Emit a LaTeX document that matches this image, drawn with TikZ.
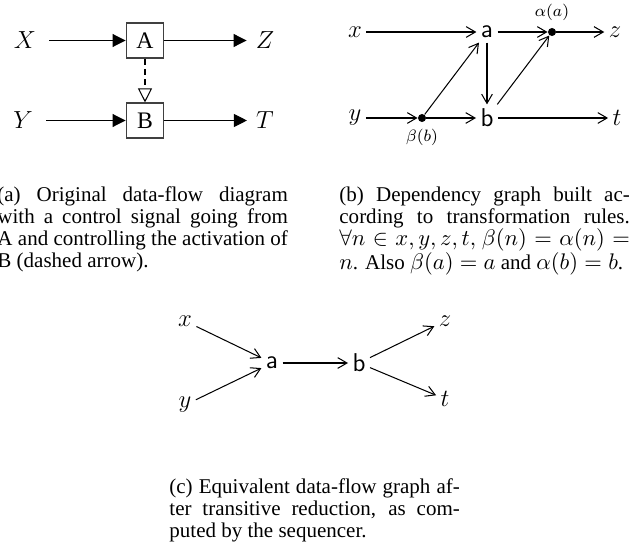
\documentclass[tikz,border=0pt]{standalone}
\usepackage[no-math]{fontspec}
\setmainfont{Liberation Serif}
\usetikzlibrary{arrows.meta}
\newcommand{\capmath}[1]{{\fontsize{11.2}{10.7}\selectfont$#1$}}
\begin{document}
\begin{tikzpicture}[x=0.4854pt,y=-0.4854pt,
  lab/.style={inner sep=0pt, font=\fontsize{12}{14}\selectfont},
  boxn/.style={draw=black!75, line width=0.5pt, minimum width=18.4pt, minimum height=17pt, inner sep=0pt, font=\fontsize{11.5}{14}\selectfont},
  farrow/.style={line width=0.5pt, -{Triangle[length=6.3pt,width=6.3pt]}},
  fromlab/.style={shorten <=6.3pt},
  tolab/.style={shorten >=4.3pt},
  ctrl/.style={line width=0.5pt, dash pattern=on 3pt off 2pt, -{Triangle[open,length=6.8pt,width=6.8pt]}},
  glab/.style={inner sep=2pt, font=\fontsize{12}{14}\selectfont},
  gnode/.style={inner sep=2pt, font=\fontsize{12.5}{14}\selectfont\sffamily},
  dotn/.style={circle, fill=black, inner sep=0pt, minimum size=3.9pt},
  smalllab/.style={inner sep=0pt, font=\fontsize{8.5}{10}\selectfont},
  garrow/.style={line width=0.5pt, -{Straight Barb[length=4.5pt,width=5.2pt]}},
  capnode/.style={inner sep=0pt, anchor=base west, font=\fontsize{10.2}{10.7}\selectfont},
]
\useasboundingbox (0,0) rectangle (644,544);

% ---------- (a) ----------
\node[lab] (X) at (25,40.5) {$X$};
\node[boxn] (A) at (145,40.5) {A};
\node[lab] (Z) at (265,40.5) {$Z$};
\node[lab] (Y) at (23,120.5) {$Y$};
\node[boxn] (B) at (145,120.5) {B};
\node[lab] (T) at (265,120.5) {$T$};
\draw[farrow, fromlab] (X) -- (A);
\draw[farrow, tolab] (A) -- (Z);
\draw[farrow, fromlab] (Y) -- (B);
\draw[farrow, tolab] (B) -- (T);
\draw[ctrl] (A) -- (B);

\node[capnode] (capa) at (-3,201) {\vtop{%
\hbox to 141pt{(a) Original data-flow diagram}
\hbox to 141pt{with a control signal going from}
\hbox to 141pt{A and controlling the activation of}
\hbox{B (dashed arrow).}}};

% ---------- (b) ----------
\node[glab] (bx) at (355,32) {$x$};
\node[gnode] (ba) at (487,32) {a};
\node[dotn] (alpha) at (552,32) {};
\node[smalllab] (alphal) at (552,12) {$\alpha(a)$};
\node[glab] (bz) at (615,32) {$z$};
\node[glab] (by) at (355,118) {$y$};
\node[dotn] (beta) at (422,118) {};
\node[smalllab] (betal) at (422,137) {$\beta(b)$};
\node[gnode] (bb) at (487,118) {b};
\node[glab] (bt) at (617,118) {$t$};
\draw[garrow] (bx) -- (ba);
\draw[garrow] (ba) -- (alpha);
\draw[garrow] (alpha) -- (bz);
\draw[garrow] (by) -- (beta);
\draw[garrow] (beta) -- (bb);
\draw[garrow] (bb) -- (bt);
\draw[garrow] (beta) -- (ba);
\draw[garrow] (ba) -- (bb);
\draw[garrow] (bb) -- (alpha);

\node[capnode] (capb) at (339,201) {\vtop{%
\hbox to 141pt{(b) Dependency graph built ac-}
\hbox to 141pt{cording to transformation rules.}
\hbox to 141pt{\capmath{\forall n \in x, y, z, t,} \capmath{\beta(n) = \alpha(n) =}}
\hbox{\capmath{n}. Also \capmath{\beta(a) = a} and \capmath{\alpha(b) = b}.}}};

% ---------- (c) ----------
\node[glab] (cx) at (185,321) {$x$};
\node[glab] (cy) at (185,405) {$y$};
\node[gnode] (ca) at (272,363) {a};
\node[gnode] (cb) at (359,363) {b};
\node[glab] (cz) at (445,321) {$z$};
\node[glab] (ct) at (445,399) {$t$};
\draw[garrow] (cx) -- (ca);
\draw[garrow] (cy) -- (ca);
\draw[garrow] (ca) -- (cb);
\draw[garrow] (cb) -- (cz);
\draw[garrow] (cb) -- (ct);

\node[capnode] (capc) at (169,493) {\vtop{%
\hbox to 141pt{(c) Equivalent data-flow graph af-}
\hbox to 141pt{ter transitive reduction, as com-}
\hbox{puted by the sequencer.}}};
\end{tikzpicture}
\end{document}
